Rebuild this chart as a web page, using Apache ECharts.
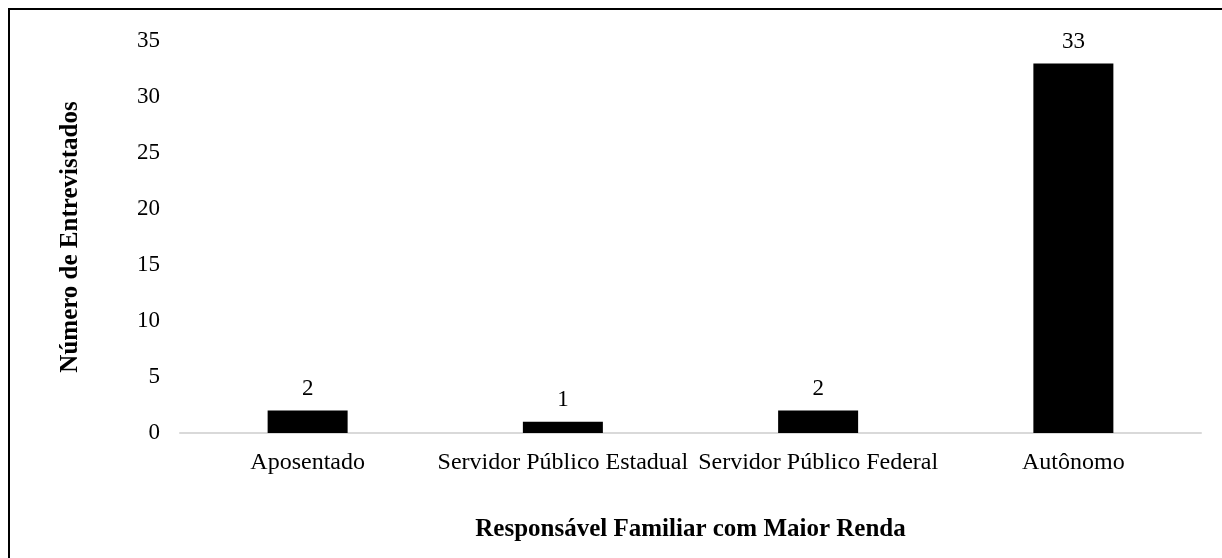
<!DOCTYPE html>
<html>
<head>
<meta charset="utf-8">
<script src="https://cdn.jsdelivr.net/npm/echarts@6/dist/echarts.min.js"></script>
<style>
  html, body { margin: 0; padding: 0; background: #fff; }
  #chart { width: 1222px; height: 558px; }
</style>
</head>
<body>
<div id="chart"></div>
<script>
const categorias = ['Aposentado', 'Servidor Público Estadual', 'Servidor Público Federal', 'Autônomo']
const entrevistados = [2, 1, 2, 33]

const fonte = '"Liberation Serif", "Times New Roman", serif'

const chart = echarts.init(document.getElementById('chart'))

chart.setOption({
  animation: false,
  backgroundColor: '#fff',
  textStyle: { fontFamily: fonte, color: '#000' },
  // moldura da figura (só aparecem a esquerda e o topo)
  graphic: [{
    type: 'rect',
    shape: { x: 9, y: 9, width: 1400, height: 700 },
    style: { fill: 'none', stroke: '#000', lineWidth: 2 },
    silent: true
  }],
  grid: { left: 180, right: 21, top: 41, bottom: 125 },
  xAxis: {
    type: 'category',
    data: categorias,
    name: 'Responsável Familiar com Maior Renda',
    nameLocation: 'middle',
    nameGap: 84,
    nameTextStyle: { fontFamily: fonte, fontSize: 25, fontWeight: 'bold', color: '#000' },
    axisLine: { lineStyle: { color: '#d9d9d9', width: 2 } },
    axisTick: { show: false },
    axisLabel: { fontFamily: fonte, fontSize: 24, color: '#000', margin: 18, interval: 0 }
  },
  yAxis: {
    type: 'value',
    min: 0,
    max: 35,
    interval: 5,
    name: 'Número de Entrevistados',
    nameLocation: 'middle',
    nameGap: 97,
    nameTextStyle: { fontFamily: fonte, fontSize: 25, fontWeight: 'bold', color: '#000' },
    axisLine: { show: false },
    axisTick: { show: false },
    splitLine: { show: false },
    axisLabel: { fontFamily: fonte, fontSize: 23, color: '#000', margin: 20 }
  },
  series: [{
    type: 'bar',
    data: entrevistados,
    barWidth: 80,
    itemStyle: { color: '#000' },
    label: {
      show: true,
      position: 'top',
      distance: 10,
      fontFamily: fonte,
      fontSize: 23,
      color: '#000'
    }
  }]
})
</script>
</body>
</html>
